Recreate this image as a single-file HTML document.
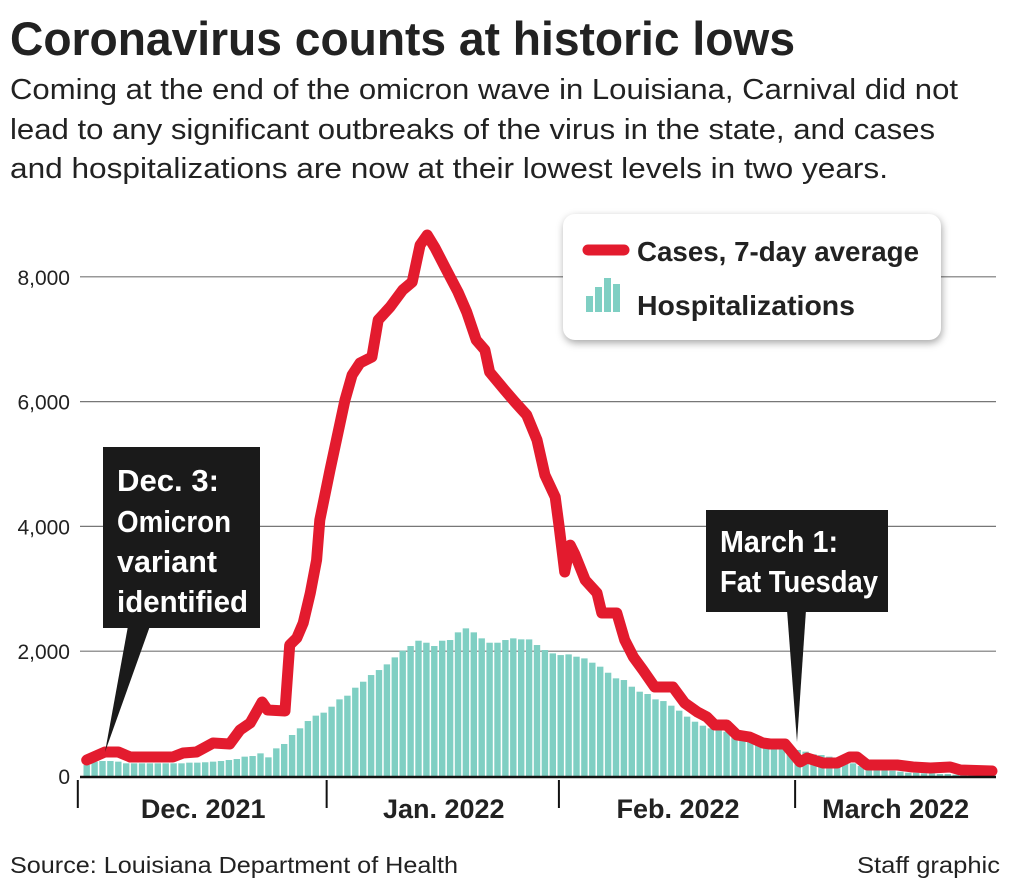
<!DOCTYPE html>
<html><head><meta charset="utf-8"><style>
html,body{margin:0;padding:0;background:#fff;}
svg{display:block;font-family:"Liberation Sans",sans-serif;}
</style></head><body>
<svg id="chart" width="1010" height="889" viewBox="0 0 1010 889">
<text x="10" y="55" font-size="47" font-weight="bold" fill="#222" textLength="785" lengthAdjust="spacingAndGlyphs">Coronavirus counts at historic lows</text>
<g font-size="29" fill="#222">
<text x="10" y="99" textLength="948" lengthAdjust="spacingAndGlyphs">Coming at the end of the omicron wave in Louisiana, Carnival did not</text>
<text x="10" y="139" textLength="925" lengthAdjust="spacingAndGlyphs">lead to any significant outbreaks of the virus in the state, and cases</text>
<text x="10" y="178" textLength="878" lengthAdjust="spacingAndGlyphs">and hospitalizations are now at their lowest levels in two years.</text>
</g>
<g id="grid"></g>
<g id="bars"></g>
<g id="line"></g>
<g id="axis"></g>
<g>
<rect x="563" y="214" width="378" height="126" rx="12" fill="#fff" style="filter:drop-shadow(1px 3px 4px rgba(0,0,0,0.35))"/>
<line x1="588" y1="250" x2="624" y2="250" stroke="#e31b2e" stroke-width="11" stroke-linecap="round"/>
<text x="637" y="261" font-size="28" font-weight="bold" fill="#222" textLength="282" lengthAdjust="spacingAndGlyphs">Cases, 7-day average</text>
<g fill="#7fcfc3">
<rect x="586" y="296" width="7" height="16"/><rect x="595" y="287" width="7" height="25"/><rect x="604" y="278" width="7" height="34"/><rect x="613" y="284" width="7" height="28"/></g>
<text x="637" y="315" font-size="28" font-weight="bold" fill="#222" textLength="218" lengthAdjust="spacingAndGlyphs">Hospitalizations</text>
</g>
<g>
<polygon points="128,626 150,626 105,752" fill="#1a1a1a"/>
<rect x="103" y="447" width="157" height="181" fill="#1a1a1a"/>
<g fill="#fff" font-size="31" font-weight="bold">
<text x="117" y="491" textLength="102" lengthAdjust="spacingAndGlyphs">Dec. 3:</text>
<text x="117" y="532" textLength="114" lengthAdjust="spacingAndGlyphs">Omicron</text>
<text x="117" y="572" textLength="100" lengthAdjust="spacingAndGlyphs">variant</text>
<text x="117" y="612" textLength="131" lengthAdjust="spacingAndGlyphs">identified</text></g>
</g>
<g>
<polygon points="787,610 806,610 797,742" fill="#1a1a1a"/>
<rect x="706" y="510" width="182" height="102" fill="#1a1a1a"/>
<g fill="#fff" font-size="31" font-weight="bold">
<text x="720" y="552" textLength="118" lengthAdjust="spacingAndGlyphs">March 1:</text>
<text x="720" y="592" textLength="158" lengthAdjust="spacingAndGlyphs">Fat Tuesday</text></g>
</g>
<text x="10" y="873" font-size="23" fill="#222" textLength="448" lengthAdjust="spacingAndGlyphs">Source: Louisiana Department of Health</text>
<text x="1000" y="873" font-size="23" fill="#222" text-anchor="end" textLength="143" lengthAdjust="spacingAndGlyphs">Staff graphic</text>
</svg>
<script>
const yTicks = [0, 2000, 4000, 6000, 8000];
const yTickLabels = ["0", "2,000", "4,000", "6,000", "8,000"];
const monthLabels = ["Dec. 2021", "Jan. 2022", "Feb. 2022", "March 2022"];
const monthStartDays = [-1, 30.5, 59.9, 89.8];
const monthEndDay = 115;
const hospitalizations = [176,230,240,240,230,203,203,203,203,203,203,203,203,214,214,220,230,240,256,272,310,320,363,299,443,513,657,764,881,967,1015,1111,1228,1287,1415,1511,1618,1698,1789,1901,2008,2083,2168,2136,2083,2168,2179,2302,2366,2302,2206,2136,2136,2179,2206,2190,2189,2099,2019,1965,1938,1949,1912,1885,1816,1752,1655,1565,1538,1431,1351,1314,1228,1201,1127,1047,951,870,806,764,737,710,673,603,577,550,497,470,443,417,417,390,347,336,310,256,230,203,160,139,123,96,85,69,53,53,43,43,32,32,21,16,14,12,10];
const caseDays = [0,2.3,4,5.5,10.9,12.2,13.9,16,18.1,19.4,20.7,22.2,22.9,25.1,25.7,26.6,27.4,28.3,29.1,29.5,30.8,32.7,33.6,34.6,36.1,36.9,38.4,40,41.2,42.2,43.1,44.1,45.4,47,48.1,49.3,50.4,51,52.9,54.2,55.7,57,58,59.3,59.8,60.5,61.2,61.8,63.1,64.6,65.2,67.1,68.1,69.2,70.4,71.9,74.2,75.7,77.3,78.5,79.5,81,82.3,83.9,85.6,86.5,88.4,90.3,91.2,93.2,95,96.6,97.5,98.8,102.6,104.6,106.8,109.3,110.6,114.6];
const caseValues = [256,385,385,304,304,369,385,529,513,737,849,1186,1058,1042,2099,2212,2452,2933,3462,4102,4904,6026,6426,6619,6715,7308,7516,7788,7917,8510,8670,8462,8141,7756,7436,6987,6827,6474,6186,5994,5785,5385,4824,4471,4000,3269,3700,3550,3140,2933,2612,2612,2180,1907,1699,1427,1427,1170,1026,946,818,818,657,625,529,513,513,224,288,208,208,304,304,176,176,144,128,144,96,80];

const NS = "http://www.w3.org/2000/svg";
const x = d => 86.7 + d * 7.9;
const y = v => 776 - v * 0.0624;
function mk(tag, attrs, parent) {
  const el = document.createElementNS(NS, tag);
  for (const k in attrs) el.setAttribute(k, attrs[k]);
  parent.appendChild(el);
  return el;
}
const grid = document.getElementById('grid');
yTicks.forEach((t, i) => {
  if (t > 0) {
    const gl = mk('line', {x1: 80, x2: 996, y1: y(t), y2: y(t), stroke: '#777', 'stroke-width': 1.2}, grid);
    
    
  }
  const lb = mk('text', {x: 70, y: y(t) + 8, 'font-size': 21, fill: '#222', 'text-anchor': 'end'}, grid);
  lb.textContent = yTickLabels[i];
  
  
});
const bars = document.getElementById('bars');
hospitalizations.forEach((v, i) => {
  const b = mk('rect', {x: x(i) - 3.2, y: y(v), width: 6.4, height: 776 - y(v), fill: '#7fcfc3'}, bars);
  
  
});
const line = document.getElementById('line');
const pts = caseDays.map((d, i) => x(d).toFixed(1) + ',' + y(caseValues[i]).toFixed(1)).join(' ');
const pl = mk('polyline', {points: pts, fill: 'none', stroke: '#e31b2e', 'stroke-width': 11, 'stroke-linejoin': 'round', 'stroke-linecap': 'round'}, line);


const axis = document.getElementById('axis');
const base = mk('line', {x1: 80, x2: 996, y1: 777, y2: 777, stroke: '#111', 'stroke-width': 2.5}, axis);


monthStartDays.forEach((d, i) => {
  const tk = mk('line', {x1: x(d) - 1, x2: x(d) - 1, y1: 780, y2: 808, stroke: '#111', 'stroke-width': 2}, axis);
  
  
  const next = i < monthStartDays.length - 1 ? monthStartDays[i + 1] : monthEndDay;
  const lb = mk('text', {x: (x(d) + x(next)) / 2, y: 818, 'font-size': 27, 'font-weight': 'bold', fill: '#222', 'text-anchor': 'middle'}, axis);
  lb.textContent = monthLabels[i];
  
  
});
</script>
</body></html>
